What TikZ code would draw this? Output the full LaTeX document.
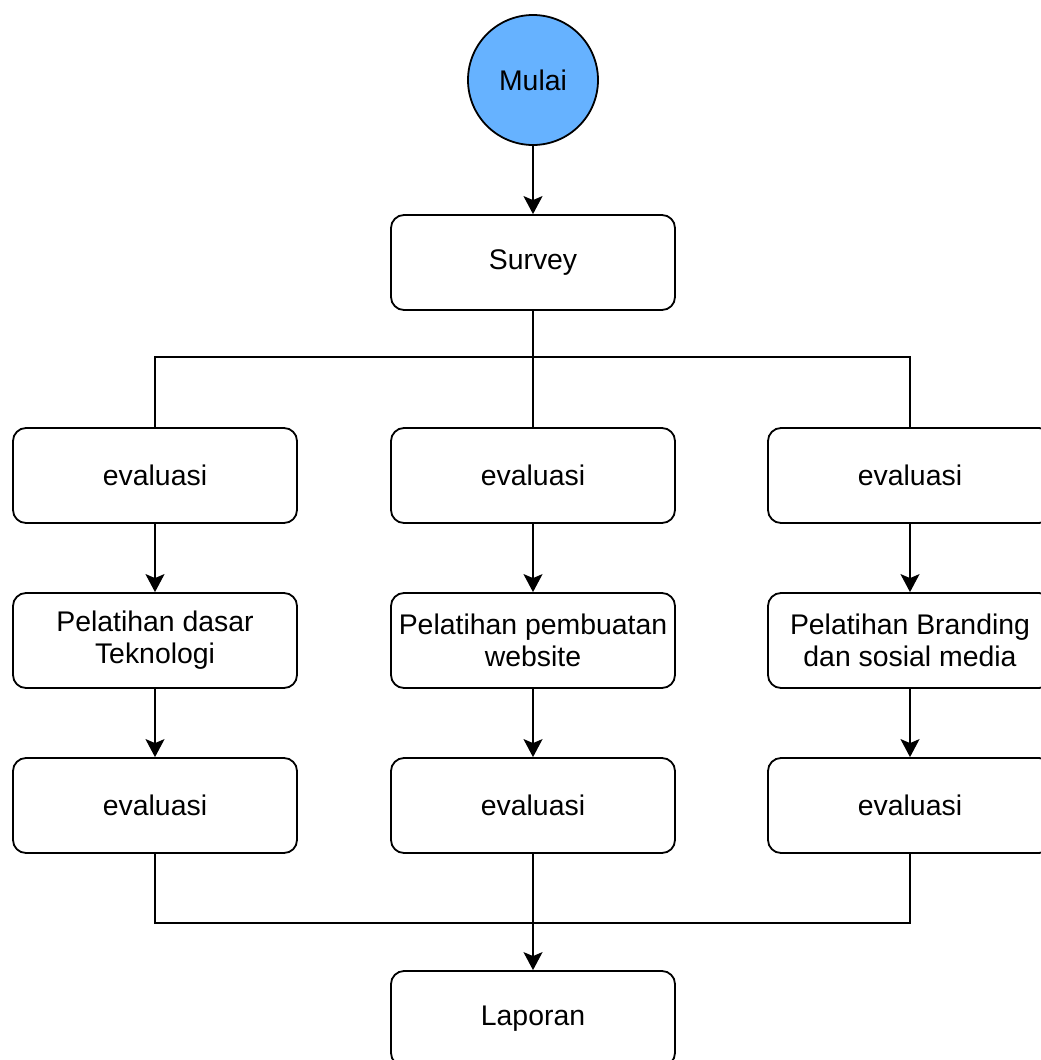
\documentclass[tikz,border=0pt]{standalone}
\usepackage{fontspec}
\setmainfont{Liberation Sans}
\usetikzlibrary{arrows.meta}
\definecolor{startblue}{HTML}{66B2FF}
\begin{document}
\begin{tikzpicture}[x=1pt,y=-1pt,
  box/.style={draw=black, line width=1.8pt, rounded corners=13pt, minimum width=284pt, minimum height=95pt, inner sep=0pt, align=center, font=\fontsize{28.4}{32}\selectfont, fill=white},
  startc/.style={circle, draw=black, line width=1.8pt, fill=startblue, minimum size=130pt, inner sep=0pt, font=\fontsize{28.4}{32}\selectfont},
  conn/.style={line width=1.8pt, draw=black},
  arr/.style={conn, -{Stealth[length=18pt, width=19pt, inset=4pt]}}]
\useasboundingbox (0,0) rectangle (1041,1060);
\clip (0,0) rectangle (1041,1060);
\node[startc] (mulai) at (533,80) {Mulai};
\node[box] (survey) at (533,262.5) {Survey};
\node[box] (e1l) at (155,475.5) {evaluasi};
\node[box] (e1m) at (533,475.5) {evaluasi};
\node[box] (e1r) at (910,475.5) {evaluasi};
\node[box] (p2l) at (155,640.5) {Pelatihan dasar\\Teknologi};
\node[box] (p2m) at (533,640.5) {Pelatihan pembuatan\\website};
\node[box] (p2r) at (910,640.5) {Pelatihan Branding\\dan sosial media};
\node[box] (e3l) at (155,805.5) {evaluasi};
\node[box] (e3m) at (533,805.5) {evaluasi};
\node[box] (e3r) at (910,805.5) {evaluasi};
\node[box] (lap) at (533,1018.5) {Laporan};
\coordinate (split) at (533,357);
\coordinate (merge) at (533,923);
\draw[arr] (mulai) -- (survey);
\draw[conn] (survey) -- (split);
\draw[conn] (split) -| (e1l.north);
\draw[conn] (split) -| (e1r.north);
\draw[conn] (split) -- (e1m);
\draw[arr] (e1l) -- (p2l);
\draw[arr] (e1m) -- (p2m);
\draw[arr] (e1r) -- (p2r);
\draw[arr] (p2l) -- (e3l);
\draw[arr] (p2m) -- (e3m);
\draw[arr] (p2r) -- (e3r);
\draw[conn] (e3l.south) |- (merge);
\draw[conn] (e3r.south) |- (merge);
\draw[arr] (e3m) -- (lap);
\end{tikzpicture}
\end{document}
